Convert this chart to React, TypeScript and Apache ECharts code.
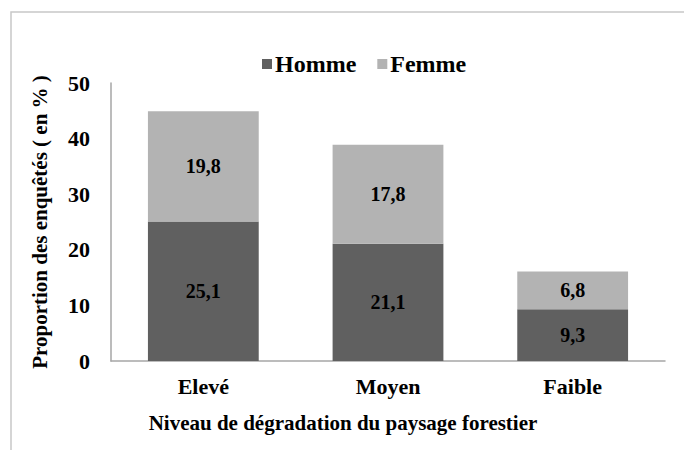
import React, { useEffect, useRef } from "react";
import * as echarts from "echarts";

const categories = ["Elevé", "Moyen", "Faible"];
const homme = [25.1, 21.1, 9.3];
const femme = [19.8, 17.8, 6.8];
const yTicks = [0, 10, 20, 30, 40, 50];

const FONT = "Liberation Serif";

export default function App() {
  const ref = useRef<HTMLDivElement>(null);
  useEffect(() => {
    if (!ref.current) return;
    const chart = echarts.init(ref.current, null, { renderer: "svg" });
    const label = {
      show: true,
      position: "inside",
      color: "#000",
      fontFamily: FONT,
      fontWeight: "bold",
      fontSize: 20,
      formatter: (p: any) => String(p.value).replace(".", ","),
    };
    chart.setOption({
      animation: false,
      backgroundColor: "#fff",
      textStyle: { fontFamily: FONT },
      graphic: [
        {
          type: "rect",
          shape: { x: 11, y: 12, width: 720, height: 500 },
          style: { fill: "none", stroke: "#c8c8c8", lineWidth: 1.5 },
          silent: true,
        },
        {
          type: "text",
          x: 343,
          y: 423,
          style: {
            text: "Niveau de dégradation du paysage forestier",
            fontFamily: FONT,
            fontWeight: "bold",
            fontSize: 21,
            fill: "#000",
            align: "center",
            verticalAlign: "middle",
          },
        },
      ],
      legend: {
        top: 47,
        left: 257,
        itemWidth: 10,
        itemHeight: 10,
        itemGap: 21,
        icon: "rect",
        textStyle: { fontFamily: FONT, fontWeight: "bold", fontSize: 24, color: "#000", padding: [0, 0, 0, -2] },
        data: ["Homme", "Femme"],
      },
      grid: { left: 111, right: 19, top: 83, bottom: 89 },
      xAxis: {
        type: "category",
        data: categories,
        axisLine: { lineStyle: { color: "#a6a6a6", width: 1.5 } },
        axisTick: { show: false },
        axisLabel: { color: "#000", fontFamily: FONT, fontWeight: "bold", fontSize: 22, margin: 14 },
      },
      yAxis: {
        type: "value",
        min: yTicks[0],
        max: yTicks[yTicks.length - 1],
        interval: 10,
        name: "Proportion des enquêtés ( en % )",
        nameLocation: "middle",
        nameGap: 61,
        nameTextStyle: { color: "#000", fontFamily: FONT, fontWeight: "bold", fontSize: 21 },
        axisLine: { show: true, lineStyle: { color: "#a6a6a6", width: 1.5 } },
        axisTick: { show: false },
        splitLine: { show: false },
        axisLabel: { color: "#000", fontFamily: FONT, fontWeight: "bold", fontSize: 22, margin: 21, align: "right" },
      },
      series: [
        {
          name: "Homme",
          type: "bar",
          stack: "t",
          barWidth: "60%",
          data: homme,
          itemStyle: { color: "#606060" },
          label,
        },
        {
          name: "Femme",
          type: "bar",
          stack: "t",
          barWidth: "60%",
          data: femme,
          itemStyle: { color: "#b3b3b3" },
          label,
        },
      ],
    });
    return () => chart.dispose();
  }, []);
  return <div ref={ref} style={{ width: 684, height: 450, position: "absolute", left: 0, top: 0 }} />;
}
